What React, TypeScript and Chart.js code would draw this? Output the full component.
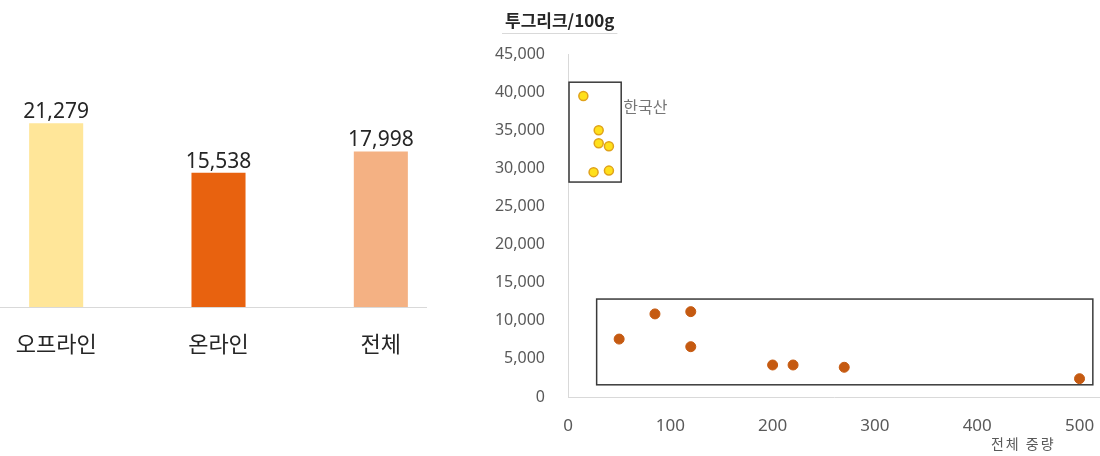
import { useEffect, useRef } from 'react';
import { Chart, registerables } from 'chart.js';

Chart.register(...registerables);

// ---- Left bar chart data ----
const barCategories = ['오프라인', '온라인', '전체'];
const barValues = [21279, 15538, 17998];
const barColors = ['#FFE699', '#E8620F', '#F4B183'];
const barMax = 25000;

// ---- Right scatter chart data ----
const scatterTitle = '투그리크/100g';
const xAxisTitle = '전체 중량';
const koreaLabel = '한국산';
const koreaX = [15, 30, 30, 40, 25, 40];
const koreaY = [39500, 35000, 33300, 32900, 29500, 29700];
const otherX = [50, 85, 120, 120, 200, 220, 270, 500];
const otherY = [7600, 10900, 11200, 6600, 4200, 4200, 3900, 2400];
const xMax = 520;
const xTickValues = [0, 100, 200, 300, 400, 500];
const yMax = 45000;
const yStep = 5000;
// boxes in data units: [xMin, xMax, yMin, yMax]
const koreaBox = [1, 52, 28200, 41300];
const otherBox = [28, 513, 1600, 12850];
const koreaLabelPos = [54, 38100];
const xTitleValue = 445;

const KR = "'Noto Sans CJK KR', 'Noto Sans', sans-serif";
const NUM = "'Noto Sans', 'Noto Sans CJK KR', sans-serif";

const fmt = (v: number) => Number(v).toLocaleString('en-US');

const barLabelPlugin = {
  id: 'barLabels',
  afterDatasetsDraw(chart: any) {
    const { ctx } = chart;
    const meta = chart.getDatasetMeta(0);
    ctx.save();
    ctx.font = `21px ${NUM}`;
    ctx.fillStyle = '#262626';
    ctx.textAlign = 'center';
    ctx.textBaseline = 'alphabetic';
    meta.data.forEach((bar: any, i: number) => {
      ctx.fillText(fmt(barValues[i]), bar.x, bar.y - 5);
    });
    ctx.restore();
  },
};

const scatterDecor = {
  id: 'scatterDecor',
  afterDatasetsDraw(chart: any) {
    const { ctx } = chart;
    const xs = chart.scales.x;
    const ys = chart.scales.y;
    ctx.save();
    ctx.strokeStyle = '#3a3a3a';
    ctx.lineWidth = 1.5;
    [koreaBox, otherBox].forEach((b) => {
      const x0 = xs.getPixelForValue(b[0]);
      const x1 = xs.getPixelForValue(b[1]);
      const y0 = ys.getPixelForValue(b[3]);
      const y1 = ys.getPixelForValue(b[2]);
      ctx.strokeRect(x0, y0, x1 - x0, y1 - y0);
    });
    ctx.font = `16px ${KR}`;
    ctx.fillStyle = '#767676';
    ctx.textAlign = 'left';
    ctx.textBaseline = 'middle';
    ctx.fillText(koreaLabel, xs.getPixelForValue(koreaLabelPos[0]), ys.getPixelForValue(koreaLabelPos[1]));

    // x-axis title
    ctx.font = `14px ${KR}`;
    ctx.fillStyle = '#595959';
    ctx.textAlign = 'center';
    try { (ctx as any).letterSpacing = '2px'; } catch (e) {}
    ctx.fillText(xAxisTitle, xs.getPixelForValue(xTitleValue), chart.height - 12);
    try { (ctx as any).letterSpacing = '0px'; } catch (e) {}

    // chart title
    ctx.font = `bold 17px ${KR}`;
    ctx.fillStyle = '#262626';
    ctx.textAlign = 'left';
    ctx.textBaseline = 'middle';
    ctx.fillText(scatterTitle, 25, 21);
    const w = ctx.measureText(scatterTitle).width;
    ctx.strokeStyle = '#d9d9d9';
    ctx.lineWidth = 1;
    ctx.beginPath();
    ctx.moveTo(22, 33.5);
    ctx.lineTo(25 + w + 3, 33.5);
    ctx.stroke();
    ctx.restore();
  },
};

export default function App() {
  const barRef = useRef<HTMLCanvasElement>(null);
  const scRef = useRef<HTMLCanvasElement>(null);

  useEffect(() => {
    const bar = new Chart(barRef.current as HTMLCanvasElement, {
      type: 'bar',
      data: {
        labels: barCategories,
        datasets: [
          {
            data: barValues,
            backgroundColor: barColors,
            categoryPercentage: 1,
            barPercentage: 0.333,
          },
        ],
      },
      options: {
        animation: false,
        responsive: true,
        maintainAspectRatio: false,
        layout: { autoPadding: false, padding: { top: 91, left: 0, right: 0, bottom: 0 } },
        plugins: { legend: { display: false }, tooltip: { enabled: false } },
        scales: {
          x: {
            grid: { display: true, color: 'transparent', drawTicks: false },
            border: { display: true, color: '#D9D9D9', width: 1 },
            ticks: { color: '#262626', font: { family: KR, size: 22 }, padding: 23, maxRotation: 0 },
            afterFit(scale: any) {
              scale.height = 149;
            },
          },
          y: { display: false, min: 0, max: barMax },
        },
      },
      plugins: [barLabelPlugin],
    } as any);

    const sc = new Chart(scRef.current as HTMLCanvasElement, {
      type: 'scatter',
      data: {
        datasets: [
          {
            data: koreaX.map((x, i) => ({ x, y: koreaY[i] })),
            backgroundColor: '#FFE01A',
            borderColor: '#E0A21A',
            borderWidth: 1.5,
            pointRadius: 4.5,
            clip: false,
          },
          {
            data: otherX.map((x, i) => ({ x, y: otherY[i] })),
            backgroundColor: '#C55A11',
            borderColor: '#C55A11',
            borderWidth: 1,
            pointRadius: 5,
            clip: false,
          },
        ],
      },
      options: {
        animation: false,
        responsive: true,
        maintainAspectRatio: false,
        layout: { autoPadding: false, padding: { top: 54, left: 0, right: 0, bottom: 0 } },
        plugins: { legend: { display: false }, tooltip: { enabled: false } },
        scales: {
          x: {
            type: 'linear',
            min: 0,
            max: xMax,
            grid: { display: true, color: 'transparent', drawTicks: false },
            border: { display: true, color: '#D9D9D9', width: 1 },
            ticks: { color: '#595959', font: { family: NUM, size: 17 }, padding: 19, maxRotation: 0, autoSkip: false },
            afterBuildTicks(scale: any) {
              scale.ticks = xTickValues.map((v) => ({ value: v }));
            },
            afterFit(scale: any) {
              scale.height = 59;
              scale.paddingRight = 0;
              scale.paddingLeft = 0;
            },
          },
          y: {
            min: 0,
            max: yMax,
            grid: { display: true, color: 'transparent', drawTicks: false },
            border: { display: true, color: '#D9D9D9', width: 1 },
            ticks: {
              stepSize: yStep,
              color: '#595959',
              font: { family: NUM, size: 16 },
              padding: 23,
              callback: (v: any) => fmt(v),
            },
            afterFit(scale: any) {
              scale.width = 88;
            },
          },
        },
      },
      plugins: [scatterDecor],
    } as any);

    return () => {
      bar.destroy();
      sc.destroy();
    };
  }, []);

  return (
    <div style={{ position: 'absolute', left: 0, top: 0, width: 1100, height: 456, background: '#fff', overflow: 'hidden' }}>
      <div style={{ position: 'absolute', left: 0, top: 0, width: 427, height: 456, overflow: 'hidden' }}>
        <div style={{ position: 'absolute', left: -25, top: 0, width: 487, height: 456 }}>
          <canvas ref={barRef} />
        </div>
      </div>
      <div style={{ position: 'absolute', left: 480, top: 0, width: 620, height: 456 }}>
        <canvas ref={scRef} />
      </div>
    </div>
  );
}
